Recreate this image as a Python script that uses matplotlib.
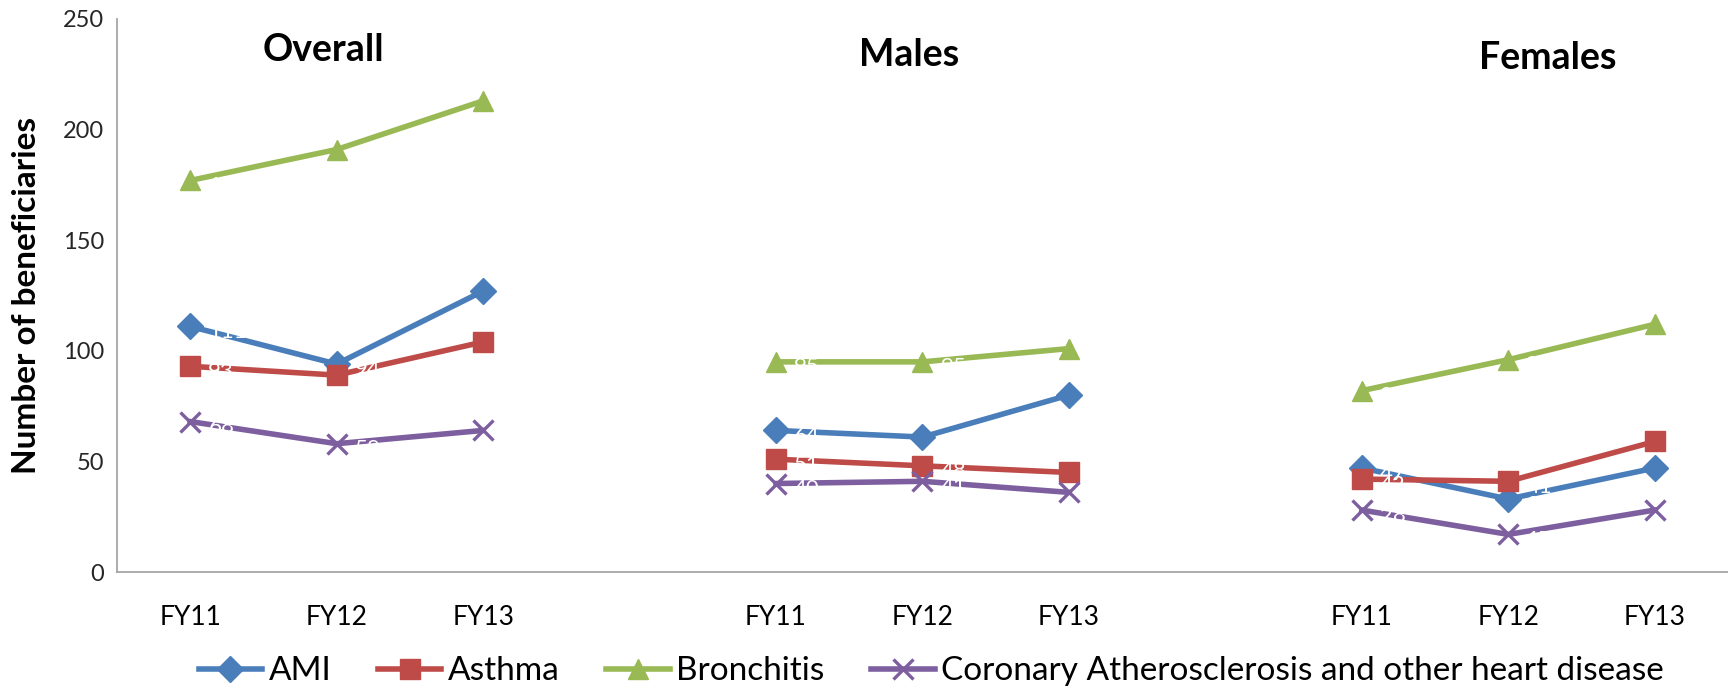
import numpy as np
import matplotlib.pyplot as plt

plt.rcParams['font.family'] = ['Lato', 'DejaVu Sans']

years = ["FY11", "FY12", "FY13"]
groups = ["Overall", "Males", "Females"]

# Overall, Males, Females (FY11-FY13 each)
ami = [111, 94, 127, 64, 61, 80, 47, 33, 47]
asthma = [93, 89, 104, 51, 48, 45, 42, 41, 59]
bronchitis = [177, 191, 213, 95, 95, 101, 82, 96, 112]
coronary = [68, 58, 64, 40, 41, 36, 28, 17, 28]

series = [
    ("AMI", ami, "#4A7EBB", "D", 13),
    ("Asthma", asthma, "#BE4B48", "s", 14),
    ("Bronchitis", bronchitis, "#98B954", "^", 15),
    ("Coronary Atherosclerosis and other heart disease", coronary, "#7D5FA0", "x", 14),
]

# one empty slot between the groups so the lines break
xpos = []
labels = []
for g in range(len(groups)):
    for i, y in enumerate(years):
        xpos.append(g * 4 + i)
        labels.append(y)

fig = plt.figure(figsize=(17.28, 6.88), dpi=100)
ax = fig.add_axes([0.0677, 0.1686, 0.9323, 0.8038])

for name, vals, color, marker, ms in series:
    for g in range(len(groups)):
        xs = xpos[g * 3:g * 3 + 3]
        ys = vals[g * 3:g * 3 + 3]
        ax.plot(xs, ys, color=color, lw=4, marker=marker, ms=ms,
                mew=2.4 if marker == "x" else 1,
                label=name if g == 0 else None)
        for x, y in zip(xs, ys):
            ax.annotate(str(y), (x, y), xytext=(13, -4), textcoords="offset points",
                        color="white", fontsize=16, va="center", ha="left")

ax.set_xlim(-0.5, 10.5)
ax.set_ylim(0, 250)
ax.set_yticks(np.arange(0, 251, 50))
ax.set_xticks(xpos)
ax.set_xticklabels(labels)
ax.tick_params(axis="both", length=0)
ax.tick_params(axis="x", pad=24, labelsize=19)
ax.tick_params(axis="y", pad=9, labelsize=17, labelcolor="#262626")
for s in ["top", "right"]:
    ax.spines[s].set_visible(False)
for s in ["left", "bottom"]:
    ax.spines[s].set_color("#A6A6A6")
    ax.spines[s].set_linewidth(1.3)

ax.set_ylabel("Number of beneficiaries", fontsize=24, fontweight="bold", labelpad=16)

for gx, gy, name in [(0.91, 236, "Overall"), (4.91, 233.5, "Males"), (9.27, 232.5, "Females")]:
    ax.text(gx, gy, name, fontsize=27, fontweight="bold", ha="center", va="center")

fig.legend(loc="center", ncol=4, frameon=False, fontsize=24,
           bbox_to_anchor=(0.539, 0.024), handlelength=1.9, columnspacing=1.4,
           handletextpad=0.2, borderaxespad=0)

fig.savefig("out.png", dpi=100)
